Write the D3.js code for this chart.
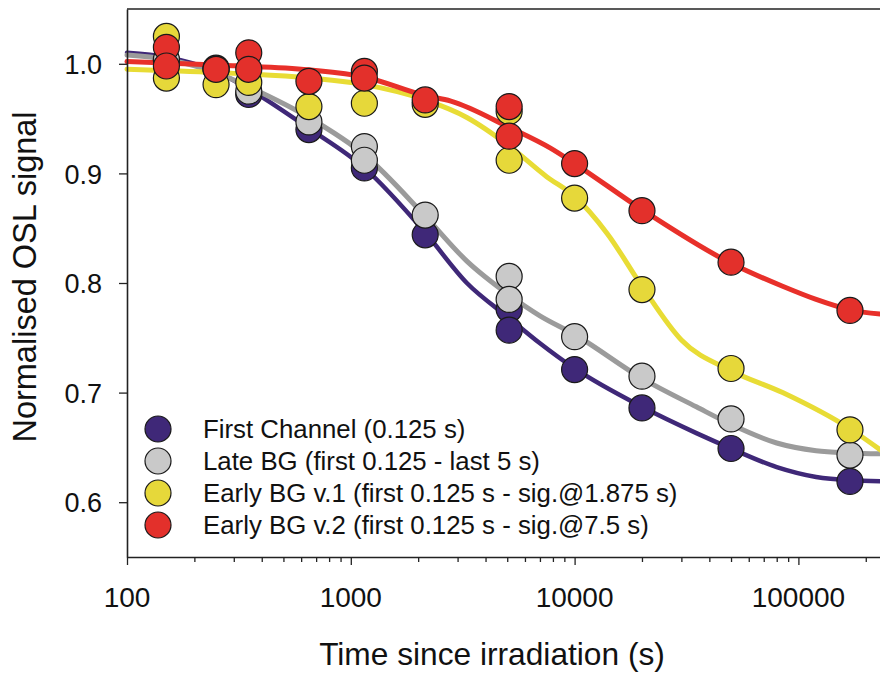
<!DOCTYPE html>
<html>
<head>
<meta charset="utf-8">
<script src="https://cdn.jsdelivr.net/npm/d3@7"></script>
<style>
  html, body { margin: 0; padding: 0; background: #fff; }
  svg { display: block; font-family: "Liberation Sans", Arial, sans-serif; }
</style>
</head>
<body>
<svg id="chart" width="880" height="677"></svg>
<script>
// ---- Data ----
const seriesNames = [
  "First Channel (0.125 s)",
  "Late BG (first 0.125 - last 5 s)",
  "Early BG v.1 (first 0.125 s - sig.@1.875 s)",
  "Early BG v.2 (first 0.125 s - sig.@7.5 s)"
];
const markerColors = ["#3f2878", "#c9c9c9", "#e6d83a", "#e3302b"];
const lineColors   = ["#3f2878", "#9b9b9b", "#e8dc35", "#e8302a"];

// measured points [time (s), normalised signal]
const firstChannelPts = [[150,1.003],[250,0.996],[350,0.972],[650,0.940],[1150,0.905],[2150,0.844],[5100,0.776],[5100,0.757],[10000,0.721],[20000,0.686],[50000,0.649],[170000,0.619]];
const lateBGPts = [[150,1.004],[250,0.995],[350,0.975],[650,0.947],[1150,0.9245],[1150,0.912],[2150,0.862],[5100,0.806],[5100,0.785],[10000,0.751],[20000,0.715],[50000,0.676],[170000,0.643]];
const earlyBG1Pts = [[150,1.025],[150,0.987],[250,0.981],[350,0.983],[650,0.961],[1150,0.964],[2150,0.963],[5100,0.9565],[5100,0.912],[10000,0.8775],[20000,0.794],[50000,0.722],[170000,0.666]];
const earlyBG2Pts = [[150,1.015],[150,0.998],[250,0.995],[350,1.010],[350,0.995],[650,0.984],[1150,0.993],[1150,0.987],[2150,0.967],[5100,0.961],[5100,0.934],[10000,0.909],[20000,0.866],[50000,0.819],[170000,0.775]];

// fitted curves [time, value]
const firstChannelFit = [[100,1.010],[150,1.006],[250,0.993],[350,0.977],[650,0.941],[1150,0.905],[2150,0.846],[3300,0.800],[5100,0.768],[7000,0.745],[10000,0.722],[20000,0.687],[35000,0.663],[50000,0.649],[80000,0.632],[120000,0.623],[170000,0.620],[250000,0.619]];
const lateBGFit = [[100,1.008],[150,1.004],[250,0.992],[350,0.979],[650,0.951],[1150,0.917],[2150,0.861],[3300,0.820],[5100,0.789],[7000,0.770],[10000,0.753],[20000,0.713],[35000,0.687],[50000,0.671],[80000,0.654],[120000,0.647],[170000,0.645],[250000,0.644]];
const earlyBG1Fit = [[100,0.995],[250,0.992],[650,0.987],[1150,0.981],[2150,0.967],[3300,0.951],[5100,0.925],[7500,0.897],[10000,0.879],[14000,0.845],[20000,0.797],[30000,0.748],[50000,0.720],[85000,0.700],[170000,0.667],[250000,0.643]];
const earlyBG2Fit = [[100,1.002],[250,0.999],[650,0.9945],[1150,0.988],[2150,0.971],[2800,0.966],[5100,0.942],[7800,0.923],[10000,0.909],[20000,0.867],[50000,0.818],[85000,0.797],[120000,0.785],[170000,0.7755],[250000,0.771]];

const pointSets = [firstChannelPts, lateBGPts, earlyBG1Pts, earlyBG2Pts];
const fitSets = [firstChannelFit, lateBGFit, earlyBG1Fit, earlyBG2Fit];

const xTickValues = [100, 1000, 10000, 100000];
const xTickLabels = ["100", "1000", "10000", "100000"];
const yTickValues = [0.6, 0.7, 0.8, 0.9, 1.0];
const yTickLabels = ["0.6", "0.7", "0.8", "0.9", "1.0"];

const xTitle = "Time since irradiation (s)";
const yTitle = "Normalised OSL signal";

(function draw() {
  const svg = d3.select("#chart");
  const mLeft = 127, mTop = 9, mBottom = 557;
  const decade = 223.8;

  const x = d3.scaleLog().domain([100, 1e6]).range([mLeft, mLeft + 4 * decade]);
  const y = d3.scaleLinear().domain([0.55, 1.05]).range([mBottom, mTop]);

  const plot = svg.append("g");

  const line = d3.line().x(d => x(d[0])).y(d => y(d[1])).curve(d3.curveMonotoneX);
  fitSets.forEach((fs, i) => {
    plot.append("path")
      .datum(fs)
      .attr("d", line)
      .attr("fill", "none")
      .attr("stroke", lineColors[i])
      .attr("stroke-width", i === 0 ? 4.5 : 5)
      .attr("stroke-linecap", "round");
  });

  pointSets.forEach((ps, i) => {
    plot.append("g").selectAll("circle")
      .data(ps)
      .join("circle")
      .attr("cx", d => x(d[0]))
      .attr("cy", d => y(d[1]))
      .attr("r", 13)
      .attr("fill", markerColors[i])
      .attr("stroke", "#1a1a1a")
      .attr("stroke-width", 1.2);
  });

  const axisColor = "#222";
  const minorVals = d3.range(2, 6).flatMap(e => d3.range(1, 10).map(m => m * Math.pow(10, e)));
  const xAxis = d3.axisBottom(x)
    .tickValues(minorVals)
    .tickFormat(() => "")
    .tickSizeOuter(0);
  const gx = svg.append("g").attr("transform", `translate(0,${mBottom})`).call(xAxis);
  gx.select(".domain").attr("stroke", axisColor).attr("stroke-width", 1.6);
  gx.selectAll(".tick line")
    .attr("stroke", axisColor).attr("stroke-width", 1.3)
    .attr("y2", d => xTickValues.includes(d) ? 8 : 5);
  gx.selectAll(".tick text").remove();

  svg.append("g").selectAll("text")
    .data(xTickValues)
    .join("text")
    .attr("x", d => x(d))
    .attr("y", 607)
    .attr("text-anchor", "middle")
    .attr("font-size", 28)
    .attr("fill", "#111")
    .text((d, i) => xTickLabels[i]);

  const yAxis = d3.axisLeft(y).tickValues(yTickValues).tickSize(8).tickSizeOuter(0)
    .tickFormat((d, i) => yTickLabels[i]);
  const gy = svg.append("g").attr("transform", `translate(${mLeft},0)`).call(yAxis);
  gy.select(".domain").attr("stroke", axisColor).attr("stroke-width", 1.6);
  gy.selectAll(".tick line").attr("stroke", axisColor).attr("stroke-width", 1.3);
  gy.selectAll(".tick text")
    .attr("x", -25)
    .attr("dy", "0.36em")
    .attr("font-size", 27)
    .attr("font-family", "Liberation Sans, Arial, sans-serif")
    .attr("fill", "#111");

  svg.append("line")
    .attr("x1", mLeft).attr("x2", 880)
    .attr("y1", y(1.05)).attr("y2", y(1.05))
    .attr("stroke", axisColor).attr("stroke-width", 1.6);

  svg.append("text")
    .attr("x", 492).attr("y", 665)
    .attr("text-anchor", "middle")
    .attr("font-size", 31.7)
    .attr("fill", "#111")
    .text(xTitle);

  svg.append("text")
    .attr("transform", `translate(36,277) rotate(-90)`)
    .attr("text-anchor", "middle")
    .attr("font-size", 32.5)
    .attr("fill", "#111")
    .text(yTitle);

  const legend = svg.append("g");
  seriesNames.forEach((name, i) => {
    const cy = 429 + i * 32;
    legend.append("circle")
      .attr("cx", 158).attr("cy", cy).attr("r", 13)
      .attr("fill", markerColors[i]).attr("stroke", "#1a1a1a").attr("stroke-width", 1.2);
    legend.append("text")
      .attr("x", 203).attr("y", cy + 9)
      .attr("font-size", 25.8)
      .attr("fill", "#111")
      .text(name);
  });
})();
</script>
</body>
</html>
